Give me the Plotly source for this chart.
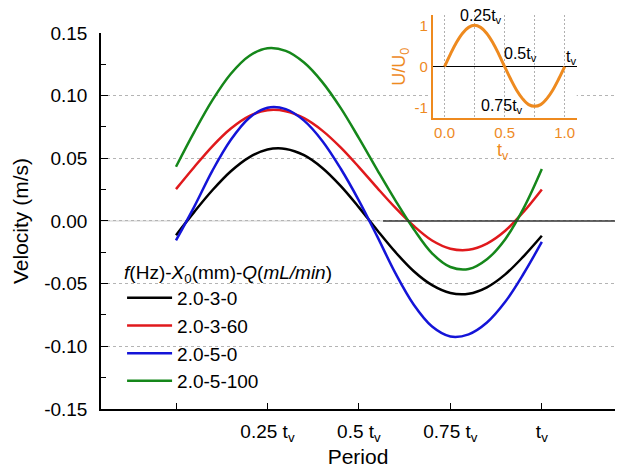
import plotly.graph_objects as go

# ---------------- data ----------------
period = [0.00, 0.05, 0.10, 0.15, 0.20, 0.25, 0.30, 0.35, 0.40, 0.45, 0.50,
          0.55, 0.60, 0.65, 0.70, 0.75, 0.80, 0.85, 0.90, 0.95, 1.00]

v_2_3_0 = [-0.0113, 0.0073, 0.0247, 0.0397, 0.0508, 0.0570, 0.0575, 0.0525, 0.0423, 0.0280, 0.0109,
           -0.0074, -0.0249, -0.0401, -0.0512, -0.0574, -0.0580, -0.0529, -0.0426, -0.0282, -0.0118]
v_2_3_60 = [0.0254, 0.0431, 0.0598, 0.0738, 0.0837, 0.0884, 0.0876, 0.0820, 0.0721, 0.0587, 0.0430,
            0.0264, 0.0104, -0.0040, -0.0156, -0.0221, -0.0230, -0.0180, -0.0078, 0.0073, 0.0252]
v_2_5_0 = [-0.0155, 0.0115, 0.0404, 0.0648, 0.0822, 0.0904, 0.0893, 0.0801, 0.0639, 0.0419, 0.0163,
           -0.0123, -0.0418, -0.0668, -0.0842, -0.0921, -0.0904, -0.0810, -0.0645, -0.0421, -0.0167]
v_2_5_100 = [0.0433, 0.0711, 0.0966, 0.1175, 0.1317, 0.1378, 0.1357, 0.1264, 0.1108, 0.0902, 0.0661,
             0.0408, 0.0162, -0.0066, -0.0258, -0.0367, -0.0383, -0.0305, -0.0145, 0.0100, 0.0414]

series_names = ["2.0-3-0", "2.0-3-60", "2.0-5-0", "2.0-5-100"]
series_values = [v_2_3_0, v_2_3_60, v_2_5_0, v_2_5_100]
series_colors = ["#000000", "#e0191c", "#1414d8", "#15871a"]

x_tick_vals = [0, 0.25, 0.5, 0.75, 1.0]
x_tick_text = ["", "0.25 t<sub>v</sub>", "0.5 t<sub>v</sub>", "0.75 t<sub>v</sub>", "t<sub>v</sub>"]
y_tick_vals = [-0.15, -0.10, -0.05, 0.00, 0.05, 0.10, 0.15]
y_tick_text = ["-0.15", "-0.10", "-0.05", "0.00", "0.05", "0.10", "0.15"]

# inset: normalised wall velocity over one period
inset_t = [0.00, 0.05, 0.10, 0.15, 0.20, 0.25, 0.30, 0.35, 0.40, 0.45, 0.50,
           0.55, 0.60, 0.65, 0.70, 0.75, 0.80, 0.85, 0.90, 0.95, 1.00]
inset_u = [0.0, 0.31, 0.59, 0.81, 0.95, 1.0, 0.95, 0.81, 0.59, 0.31, 0.0,
           -0.30, -0.57, -0.78, -0.92, -0.96, -0.92, -0.78, -0.57, -0.30, 0.0]
inset_tick_vals = [0, 0.25, 0.5, 0.75, 1.0]
inset_tick_text = ["0.0", "", "0.5", "", "1.0"]
inset_labels = [("0.25t<sub>v</sub>", 0.30, 1.22),
                ("0.5t<sub>v</sub>", 0.63, 0.30),
                ("t<sub>v</sub>", 1.05, 0.23),
                ("0.75t<sub>v</sub>", 0.475, -0.97)]
zero_line_start = 0.566

ORANGE = "#ee8a1f"
FONT = "Arial, Liberation Sans, sans-serif"

fig = go.Figure()

for name, vals, col in zip(series_names, series_values, series_colors):
    fig.add_trace(go.Scatter(x=period, y=vals, mode="lines", name=name,
                             line=dict(color=col, width=2.5, shape="spline"),
                             xaxis="x", yaxis="y"))

fig.add_trace(go.Scatter(x=inset_t, y=inset_u, mode="lines", showlegend=False,
                         line=dict(color=ORANGE, width=3, shape="spline"),
                         xaxis="x2", yaxis="y2"))

# zero reference line (solid on the right part)
fig.add_shape(type="line", xref="x", yref="y", x0=-0.205, x1=zero_line_start, y0=0, y1=0,
              line=dict(color="#cfcfcf", width=1), layer="below")
fig.add_shape(type="line", xref="x", yref="y", x0=zero_line_start, x1=1.2, y0=0, y1=0,
              line=dict(color="#333333", width=1.3), layer="above")

for txt, xx, yy in inset_labels:
    fig.add_annotation(x=xx, y=yy, xref="x2", yref="y2", text=txt, showarrow=False,
                       font=dict(size=16, color="#000000", family=FONT))

# inset x-axis title (placed closer to the tick labels than plotly's title allows)
fig.add_annotation(x=0.49, y=-0.32, xref="x2", yref="y2 domain", text="t<sub>v</sub>",
                   showarrow=False, yanchor="middle",
                   font=dict(size=18, color=ORANGE, family=FONT))

fig.update_layout(
    width=619, height=472,
    margin=dict(l=101, r=4, t=10, b=63, autoexpand=False),
    paper_bgcolor="white", plot_bgcolor="white",
    font=dict(family=FONT, color="#000000"),
    showlegend=True,
    legend=dict(
        title=dict(text="<i>f</i>(Hz)-<i>X</i><sub>0</sub>(mm)-<i>Q</i>(<i>mL/min</i>)",
                   font=dict(size=19, family=FONT)),
        font=dict(size=19, family=FONT),
        x=0.041, y=0.388, xanchor="left", yanchor="top", indentation=0, itemwidth=45,
        bgcolor="rgba(0,0,0,0)", borderwidth=0, tracegroupgap=0,
    ),
    xaxis=dict(
        domain=[0, 1], anchor="y", range=[-0.205, 1.2],
        tickmode="array", tickvals=x_tick_vals, ticktext=x_tick_text,
        ticks="inside", ticklen=6, tickwidth=1.2, tickcolor="#000",
        showline=True, linecolor="#000", linewidth=1.5,
        showgrid=False, zeroline=False,
        tickfont=dict(size=19), ticklabelstandoff=4,
        title=dict(text="Period", font=dict(size=21), standoff=2),
    ),
    yaxis=dict(
        domain=[0, 0.9424], anchor="x", range=[-0.15, 0.15],
        tickmode="array", tickvals=y_tick_vals, ticktext=y_tick_text,
        ticks="inside", ticklen=7, tickwidth=1.2, tickcolor="#000",
        minor=dict(ticks="inside", ticklen=5, dtick=0.025, tick0=-0.15, tickcolor="#000", showgrid=False),
        showline=True, linecolor="#000", linewidth=1.5,
        showgrid=True, gridcolor="#b4b4b4", griddash="3px,3px", gridwidth=1,
        zeroline=False,
        tickfont=dict(size=19), ticklabelstandoff=8,
        title=dict(text="Velocity (m/s)", font=dict(size=21), standoff=10),
    ),
    xaxis2=dict(
        domain=[0.645, 0.9255], anchor="y2", range=[-0.1, 1.1],
        tickmode="array", tickvals=inset_tick_vals, ticktext=inset_tick_text,
        ticks="", showline=True, linecolor=ORANGE, linewidth=1.5,
        showgrid=True, gridcolor="#b0b0b0", griddash="2px,2px", gridwidth=1,
        zeroline=False,
        tickfont=dict(size=15, color=ORANGE),
    ),
    yaxis2=dict(
        domain=[0.7286, 0.9875], anchor="x2", range=[-1.25, 1.25],
        tickmode="array", tickvals=[-1, 0, 1], ticktext=["-1", "0", "1"],
        ticks="", showline=True, linecolor=ORANGE, linewidth=1.5,
        showgrid=False, zeroline=True, zerolinecolor="#000", zerolinewidth=1,
        tickfont=dict(size=15, color=ORANGE),
        title=dict(text="U/U<sub>0</sub>", font=dict(size=18, color=ORANGE), standoff=4),
    ),
)

fig.write_html("out.html", config={"displayModeBar": False},
               post_script="document.body.style.margin='0';document.body.style.overflow='hidden';")
